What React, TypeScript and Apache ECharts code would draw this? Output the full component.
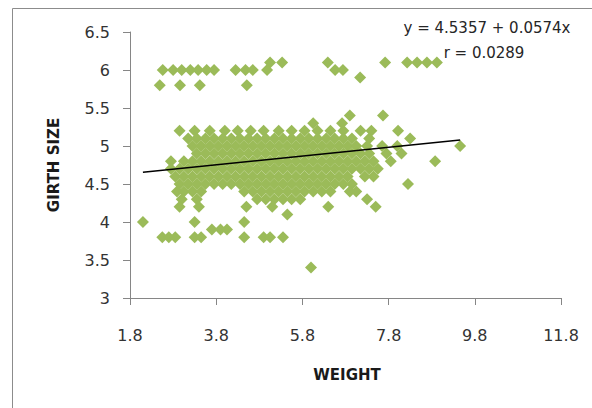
import React, { useEffect, useRef } from "react";
import * as echarts from "echarts";

// Tick values
const xTickValues = [1.8, 3.8, 5.8, 7.8, 9.8, 11.8];
const yMin = 3;
const yMax = 6.5;
const yStep = 0.5;

// Scatter data: weights grouped by girth size (rows)
const row61 = [5.05, 5.33, 6.39, 7.72, 8.23, 8.46, 8.69, 8.92];
const row60 = [2.56, 2.8, 3.0, 3.2, 3.38, 3.58, 3.75, 4.25, 4.48, 4.65, 4.98, 6.56, 6.74];
const row59 = [7.14];
const row58 = [2.49, 2.96, 3.42, 4.51];
const row54 = [6.9, 7.67];
const row53 = [6.05, 6.72];
const row52 = [2.95, 3.3, 3.65, 4.0, 4.3, 4.6, 4.9, 5.25, 5.55, 5.85, 6.15, 6.45, 6.75, 7.15, 7.4, 8.02];
const row51 = [3.15, 3.35, 3.55, 3.75, 3.95, 4.15, 4.35, 4.55, 4.75, 4.95, 5.15, 5.35, 5.55, 5.75, 5.95, 6.15, 6.35, 6.55, 6.75, 6.95, 7.35, 8.3];
const row50 = [3.25, 3.45, 3.65, 3.85, 4.05, 4.25, 4.45, 4.65, 4.85, 5.05, 5.25, 5.45, 5.65, 5.85, 6.05, 6.25, 6.45, 6.65, 6.85, 7.05, 7.3, 7.65, 8.0, 9.46];
const row49 = [3.35, 3.55, 3.75, 3.95, 4.15, 4.35, 4.55, 4.75, 4.95, 5.15, 5.35, 5.55, 5.75, 5.95, 6.15, 6.35, 6.55, 6.75, 6.95, 7.15, 7.35, 7.75, 8.1];
const row48 = [2.75, 3.05, 3.25, 3.45, 3.65, 3.85, 4.05, 4.25, 4.45, 4.65, 4.85, 5.05, 5.25, 5.45, 5.65, 5.85, 6.05, 6.25, 6.45, 6.65, 6.85, 7.05, 7.25, 7.45, 7.85, 8.88];
const row47 = [2.75, 2.95, 3.15, 3.35, 3.55, 3.75, 3.95, 4.15, 4.35, 4.55, 4.75, 4.95, 5.15, 5.35, 5.55, 5.75, 5.95, 6.15, 6.35, 6.55, 6.75, 6.95, 7.15, 7.35, 7.55];
const row46 = [2.85, 3.05, 3.25, 3.45, 3.65, 3.85, 4.05, 4.25, 4.45, 4.65, 4.85, 5.05, 5.25, 5.45, 5.65, 5.85, 6.05, 6.25, 6.45, 6.65, 6.85, 7.25, 7.45];
const row45 = [2.95, 3.15, 3.35, 3.55, 3.75, 3.95, 4.15, 4.35, 4.55, 4.75, 4.95, 5.15, 5.35, 5.55, 5.75, 5.95, 6.15, 6.35, 6.55, 6.75, 6.95, 8.25];
const row44 = [2.89, 3.05, 3.25, 3.45, 4.45, 4.65, 4.85, 5.05, 5.25, 5.45, 5.65, 5.85, 6.05, 6.25, 6.45, 6.9, 7.05];
const row43 = [3.0, 3.35, 4.75, 4.95, 5.15, 5.35, 5.55, 5.75, 7.3];
const row42 = [2.95, 3.4, 4.5, 5.1, 6.4, 7.5];
const row41 = [5.45];
const row40 = [2.1, 3.3, 4.45];
const row39 = [3.7, 3.9, 4.05];
const row38 = [2.55, 2.7, 2.85, 3.3, 3.45, 4.45, 4.9, 5.05, 5.35];
const row34 = [6.0];

const rows: [number, number[]][] = [
  [6.1, row61], [6.0, row60], [5.9, row59], [5.8, row58],
  [5.4, row54], [5.3, row53], [5.2, row52], [5.1, row51], [5.0, row50],
  [4.9, row49], [4.8, row48], [4.7, row47], [4.6, row46], [4.5, row45],
  [4.4, row44], [4.3, row43], [4.2, row42], [4.1, row41], [4.0, row40],
  [3.9, row39], [3.8, row38], [3.4, row34],
];

// Linear trend line endpoints (y = 4.5357 + 0.0574x)
const trendLine = [
  [2.1, 4.656],
  [9.46, 5.079],
];
const equationText = "y = 4.5357 + 0.0574x";
const rText = "r = 0.0289";
const xTitle = "WEIGHT";
const yTitle = "GIRTH SIZE";

export default function App() {
  const ref = useRef<HTMLDivElement>(null);
  useEffect(() => {
    if (!ref.current) return;
    const chart = echarts.init(ref.current, null, { renderer: "svg" });
    const points: number[][] = [];
    rows.forEach(([y, xs]) => xs.forEach((x) => points.push([x, y])));
    const font = "'DejaVu Sans', sans-serif";
    chart.setOption({
      animation: false,
      backgroundColor: "#ffffff",
      grid: { left: 130, right: 31, top: 32, bottom: 110 },
      xAxis: {
        type: "value",
        min: 1.8,
        max: 11.8,
        axisLine: { show: true, lineStyle: { color: "#868686", width: 1 } },
        axisTick: { show: true, length: 7, customValues: xTickValues, lineStyle: { color: "#868686" } },
        axisLabel: { customValues: xTickValues, margin: 29, color: "#333333", fontSize: 16, fontFamily: font },
        splitLine: { show: false },
      },
      yAxis: {
        type: "value",
        min: yMin,
        max: yMax,
        interval: yStep,
        axisLine: { show: true, lineStyle: { color: "#868686", width: 1 } },
        axisTick: { show: true, length: 7, lineStyle: { color: "#868686" } },
        axisLabel: { margin: 20, color: "#333333", fontSize: 16, fontFamily: font },
        splitLine: { show: false },
      },
      series: [
        {
          type: "scatter",
          data: points,
          symbol: "diamond",
          symbolSize: 12,
          itemStyle: { color: "#9BBB59", opacity: 1 },
          z: 2,
        },
        {
          type: "line",
          data: trendLine,
          symbol: "none",
          lineStyle: { color: "#000000", width: 1.5 },
          z: 3,
        },
      ],
      graphic: [
        {
          type: "rect",
          shape: { x: 12.5, y: 8.5, width: 620, height: 440 },
          style: { fill: "none", stroke: "#8c8c8c", lineWidth: 1 },
          z: -10,
        },
        {
          type: "text",
          x: 54,
          y: 165,
          rotation: Math.PI / 2,
          style: {
            text: yTitle,
            fill: "#1a1a1a",
            font: `bold 15px ${font}`,
            align: "center",
            verticalAlign: "middle",
          },
        },
        {
          type: "text",
          x: 347,
          y: 375,
          style: {
            text: xTitle,
            fill: "#1a1a1a",
            font: `bold 15px ${font}`,
            align: "center",
            verticalAlign: "middle",
          },
        },
        {
          type: "text",
          x: 487,
          y: 28,
          style: {
            text: equationText,
            fill: "#262626",
            font: `15px ${font}`,
            align: "center",
            verticalAlign: "middle",
          },
        },
        {
          type: "text",
          x: 484,
          y: 53,
          style: {
            text: rText,
            fill: "#262626",
            font: `15px ${font}`,
            align: "center",
            verticalAlign: "middle",
          },
        },
      ],
    });
    return () => chart.dispose();
  }, []);
  return (
    <div
      ref={ref}
      style={{ position: "absolute", left: 0, top: 0, width: 592, height: 408, background: "#fff" }}
    />
  );
}
